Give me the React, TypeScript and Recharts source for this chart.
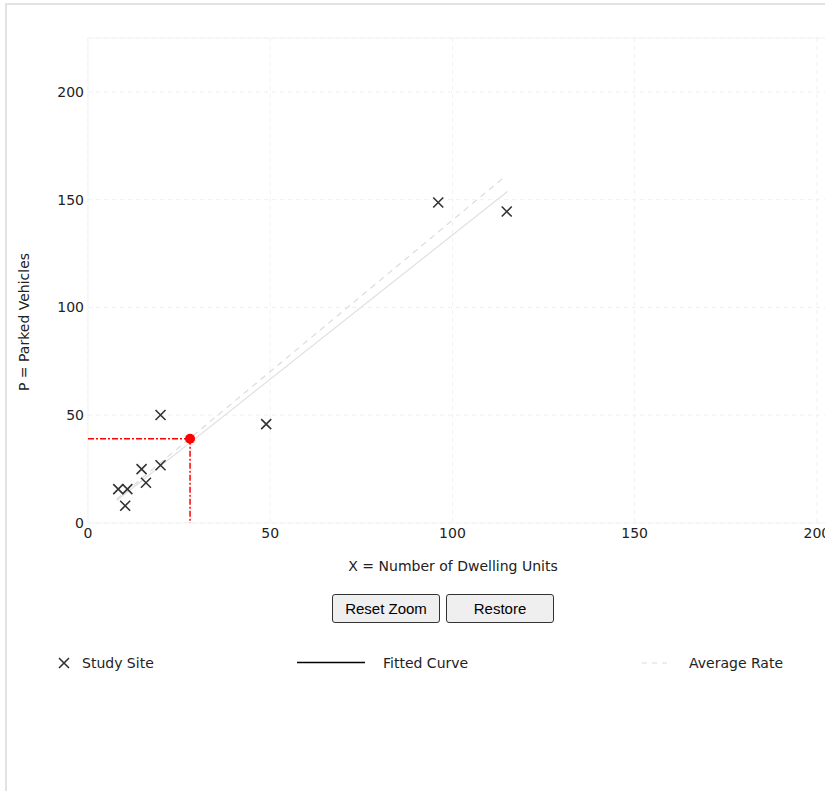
import React from 'react';
import { ComposedChart, Scatter, Line, XAxis, YAxis, CartesianGrid, ReferenceArea } from 'recharts';

// study sites (dwelling units, parked vehicles)
const studySites = [
  { x: 8.3, y: 15.7 },
  { x: 10.8, y: 15.7 },
  { x: 10.2, y: 8.0 },
  { x: 14.7, y: 25.0 },
  { x: 15.9, y: 18.7 },
  { x: 19.9, y: 50.1 },
  { x: 19.9, y: 26.8 },
  { x: 48.9, y: 45.9 },
  { x: 96.1, y: 148.7 },
  { x: 114.9, y: 144.5 },
];
const fittedCurve = [
  { x: 7.9, y: 10.4 },
  { x: 115.1, y: 153.8 },
];
const averageRate = [
  { x: 7.9, y: 11.1 },
  { x: 114.1, y: 160.3 },
];
const estimatePoint = [{ x: 28, y: 39.1 }];
const estimateHoriz = [
  { x: 0, y: 39.1 },
  { x: 28, y: 39.1 },
];
const estimateVert = [
  { x: 28, y: 39.1 },
  { x: 28, y: 0 },
];
const xTicks = [0, 50, 100, 150, 200];
const yTicks = [0, 50, 100, 150, 200];

const FONT = '"DejaVu Sans", Verdana, sans-serif';
const TEXT = '#222';

function XMark(props: any) {
  const { cx, cy } = props;
  if (cx == null || cy == null) return null;
  const s = 5;
  return (
    <path
      d={`M${cx - s},${cy - s}L${cx + s},${cy + s}M${cx - s},${cy + s}L${cx + s},${cy - s}`}
      stroke="#333"
      strokeWidth={1.6}
      fill="none"
    />
  );
}

function RedDot(props: any) {
  const { cx, cy } = props;
  if (cx == null || cy == null) return null;
  return <circle cx={cx} cy={cy} r={5} fill="#ff0000" />;
}

const buttonStyle: React.CSSProperties = {
  position: 'absolute',
  top: 594,
  width: 108,
  height: 29,
  boxSizing: 'border-box',
  border: '1px solid #333',
  borderRadius: 3,
  background: '#efefef',
  fontFamily: '"Liberation Sans", Arial, sans-serif',
  fontSize: 15,
  color: '#000',
  padding: 0,
};

const legendText: React.CSSProperties = {
  position: 'absolute',
  top: 654,
  fontFamily: FONT,
  fontSize: 14,
  color: TEXT,
  lineHeight: '18px',
  whiteSpace: 'nowrap',
};

export default function App() {
  return (
    <div style={{ position: 'fixed', left: 0, top: 0, width: 825, height: 791, overflow: 'hidden', background: '#fff' }}>
      <div
        style={{
          position: 'absolute',
          left: 5,
          top: 3,
          width: 1000,
          height: 1000,
          borderTop: '2px solid #e2e2e6',
          borderLeft: '2px solid #e2e2e6',
        }}
      />
      <div style={{ position: 'absolute', left: 0, top: 0 }}>
        <ComposedChart width={930} height={600} margin={{ top: 38, right: 22, bottom: 47, left: 48 }}>
          <CartesianGrid stroke="#f1f1f1" strokeDasharray="4 4" />
          <ReferenceArea x1={0} x2={225} y1={0} y2={225} fill="none" stroke="#f3f3f3" />
          <XAxis
            type="number"
            dataKey="x"
            domain={[0, 225]}
            ticks={xTicks}
            height={30}
            axisLine={false}
            tickLine={false}
            tickSize={0}
            tickMargin={5}
            tick={{ fill: TEXT, fontSize: 14, fontFamily: FONT }}
            label={() => (
              <text x={453} y={571} textAnchor="middle" fill={TEXT} fontSize={14} fontFamily={FONT}>
                X = Number of Dwelling Units
              </text>
            )}
          />
          <YAxis
            type="number"
            dataKey="y"
            domain={[0, 225]}
            ticks={yTicks}
            width={40}
            axisLine={false}
            tickLine={false}
            tickSize={0}
            tickMargin={4}
            tick={{ fill: TEXT, fontSize: 14, fontFamily: FONT }}
            label={() => (
              <text
                x={29}
                y={322}
                textAnchor="middle"
                fill={TEXT}
                fontSize={14}
                fontFamily={FONT}
                transform="rotate(-90 29 322)"
              >
                P = Parked Vehicles
              </text>
            )}
          />
          <Line
            data={averageRate}
            dataKey="y"
            type="linear"
            stroke="#dcdcdc"
            strokeWidth={1.2}
            strokeDasharray="6 5"
            dot={false}
            activeDot={false}
            isAnimationActive={false}
          />
          <Line
            data={fittedCurve}
            dataKey="y"
            type="linear"
            stroke="#e0e0e0"
            strokeWidth={1.2}
            dot={false}
            activeDot={false}
            isAnimationActive={false}
          />
          <Line
            data={estimateHoriz}
            dataKey="y"
            type="linear"
            stroke="#ff0000"
            strokeWidth={1.5}
            strokeDasharray="6 2 2 2"
            dot={false}
            activeDot={false}
            isAnimationActive={false}
          />
          <Line
            data={estimateVert}
            dataKey="y"
            type="linear"
            stroke="#ff0000"
            strokeWidth={1.5}
            strokeDasharray="6 2 2 2"
            dot={false}
            activeDot={false}
            isAnimationActive={false}
          />
          <Scatter data={studySites} dataKey="y" shape={XMark} isAnimationActive={false} />
          <Scatter data={estimatePoint} dataKey="y" shape={RedDot} isAnimationActive={false} />
        </ComposedChart>
      </div>

      <button style={{ ...buttonStyle, left: 332 }}>Reset Zoom</button>
      <button style={{ ...buttonStyle, left: 446 }}>Restore</button>

      <svg style={{ position: 'absolute', left: 0, top: 650 }} width={825} height={26}>
        <path d="M59,8L69,18M59,18L69,8" stroke="#333" strokeWidth={1.6} fill="none" />
        <line x1={297} y1={12.5} x2={365} y2={12.5} stroke="#000" strokeWidth={1.3} />
        <line x1={642} y1={13} x2={672} y2={13} stroke="#dcdcdc" strokeWidth={1.2} strokeDasharray="5 5" />
      </svg>
      <span style={{ ...legendText, left: 82 }}>Study Site</span>
      <span style={{ ...legendText, left: 383 }}>Fitted Curve</span>
      <span style={{ ...legendText, left: 689 }}>Average Rate</span>
    </div>
  );
}
